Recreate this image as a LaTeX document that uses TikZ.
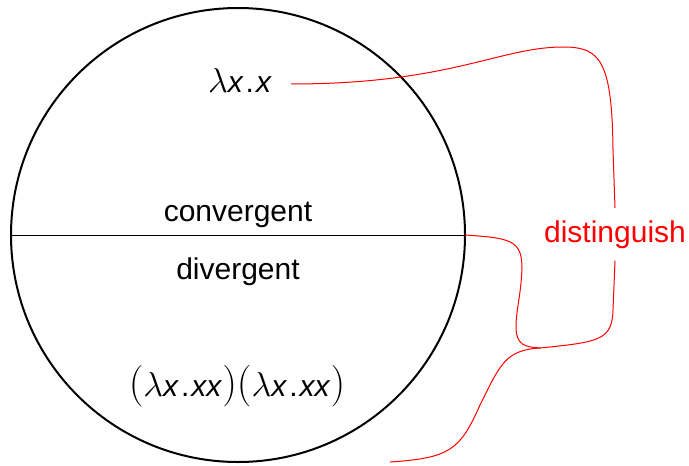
\documentclass[tikz,border=0pt]{standalone}
\usepackage{fontspec}
\setmainfont{Liberation Sans}
\usetikzlibrary{positioning}

\newcommand{\lam}{{\fontsize{16}{18}\selectfont$\lambda$}}
\newcommand{\dotx}{\hspace{1pt}.\hspace{1pt}}
\newcommand{\lpar}{{\fontsize{20}{22}\selectfont$($}}
\newcommand{\rpar}{{\fontsize{20}{22}\selectfont$)$}}

\begin{document}
\begin{tikzpicture}[
  x=0.5pt, y=-0.5pt,
  ball/.style={circle, draw=black, line width=1pt, minimum size=227pt, inner sep=0pt, outer sep=0pt},
  term/.style={anchor=base, inner sep=0pt, font=\fontsize{15}{18}\selectfont},
  tag/.style={anchor=base, text=red, inner xsep=0pt, inner ysep=6pt, font=\fontsize{15}{18}\selectfont},
  brace/.style={draw=red, line width=0.5pt}
]
  \useasboundingbox (0,0) rectangle (689,465);

  \node [ball] (ball) at (238,235) {};
  \draw [line width=0.5pt] (ball.west) -- (ball.east);

  \node [term] (id)    at (240,92)  {\lam\textit{x}\dotx\textit{x}};
  \node [term] (conv)  at (238,221) {convergent};
  \node [term] (div)   at (238,279) {divergent};
  \node [term] (omega) at (237,396) {\lpar\lam\textit{x}\dotx\textit{xx}\rpar\lpar\lam\textit{x}\dotx\textit{xx}\rpar};

  \node [tag] (dist) at (615,242) {distinguish};

  \coordinate (top) at (291,84);
  \coordinate (join) at (540,348);
  \coordinate (low) at (390,462);

  % brace
  \draw [brace] (top) .. controls (450,84) and (500,47) .. (563,47)
    .. controls (600,47) and (612,60) .. (613,150) -- (dist.north);
  \draw [brace] (dist.south) -- (613,310) .. controls (612,340) and (600,342) .. (join);
  \draw [brace] (ball.east) .. controls (510,238) and (522,240) .. (522,268)
    .. controls (521,295) and (516,310) .. (516,327)
    .. controls (516,345) and (525,347) .. (join);
  \draw [brace] (join) .. controls (505,350) and (500,365) .. (480,405)
    .. controls (460,450) and (450,458) .. (low);
\end{tikzpicture}
\end{document}
